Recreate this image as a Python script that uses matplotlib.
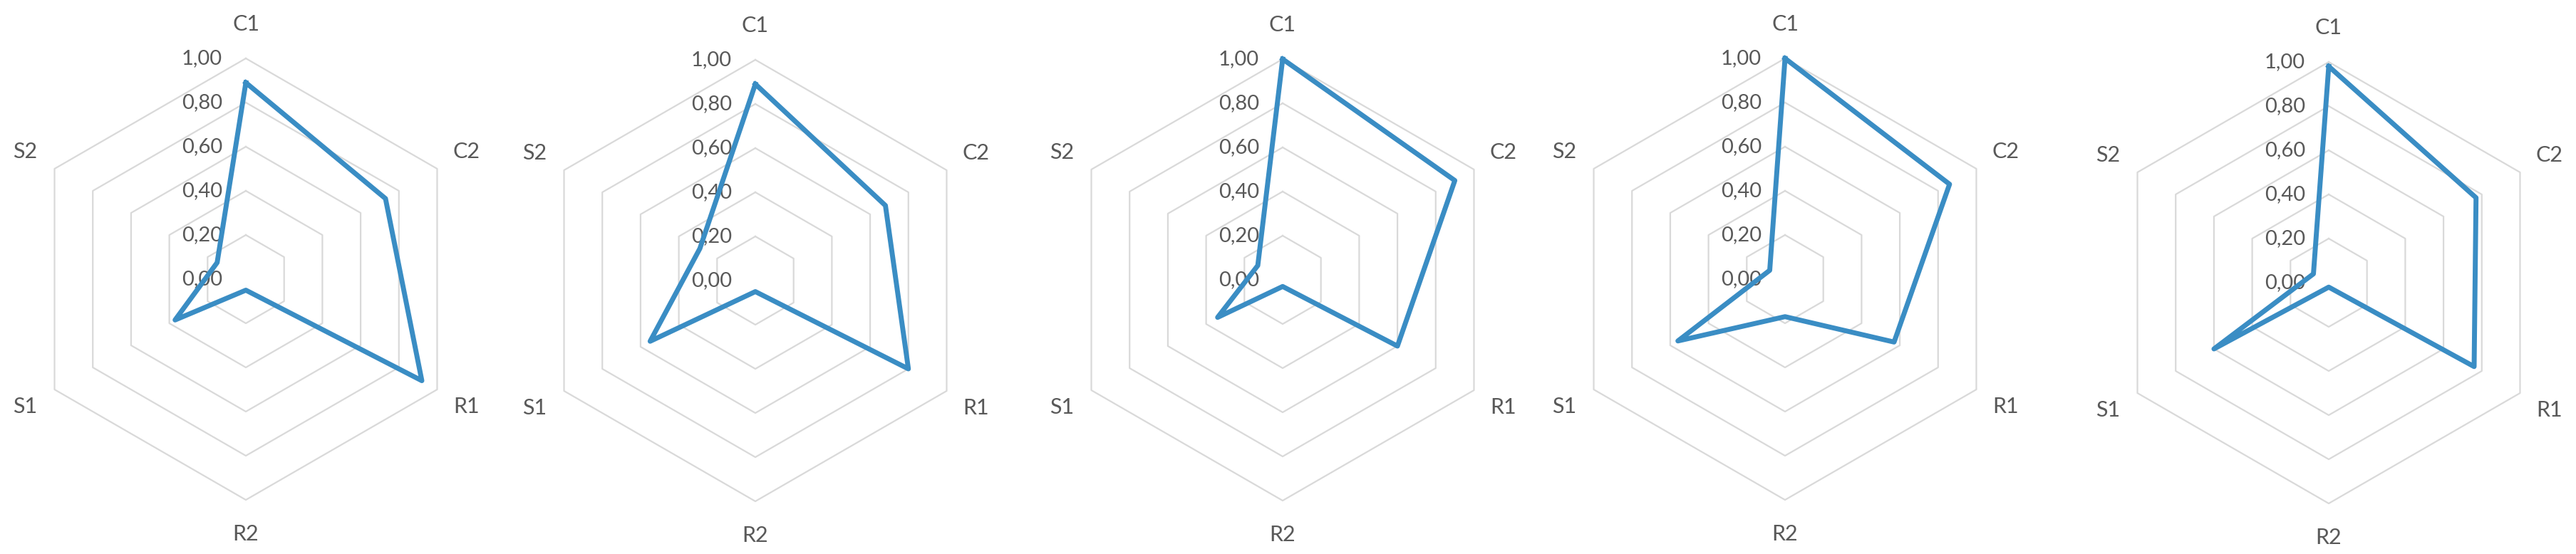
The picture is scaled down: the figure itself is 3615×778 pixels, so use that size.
import numpy as np
import matplotlib.pyplot as plt
from matplotlib import transforms

categories = ['C1', 'C2', 'R1', 'R2', 'S1', 'S2']
levels = [0.0, 0.2, 0.4, 0.6, 0.8, 1.0]
level_labels = ['0,00', '0,20', '0,40', '0,60', '0,80', '1,00']

chart1 = [0.89, 0.73, 0.92, 0.05, 0.37, 0.15]
chart2 = [0.89, 0.68, 0.80, 0.05, 0.55, 0.29]
chart3 = [1.00, 0.90, 0.60, 0.03, 0.34, 0.13]
chart4 = [1.00, 0.86, 0.57, 0.17, 0.56, 0.08]
chart5 = [0.98, 0.77, 0.76, 0.02, 0.60, 0.08]
charts = [chart1, chart2, chart3, chart4, chart5]

# chart centres in pixels (x, y from top) and radius of the 1,00 ring
centres = [(345, 392), (1060, 394), (1800, 393), (2505, 392), (3268, 397)]
R = 310
W, H = 3615, 778

plt.rcParams['font.family'] = ['Lato', 'DejaVu Sans']
text_col = '#595959'
grid_col = '#D9D9D9'
line_col = '#3A8DC4'

fig = plt.figure(figsize=(W / 100, H / 100), dpi=100)
fig.patch.set_facecolor('white')

angles = np.linspace(0, 2 * np.pi, len(categories), endpoint=False)
ang_closed = np.append(angles, angles[0])

for vals, (cx, cy) in zip(charts, centres):
    rect = [(cx - R) / W, (H - cy - R) / H, 2 * R / W, 2 * R / H]
    ax = fig.add_axes(rect, projection='polar')
    ax.set_theta_offset(np.pi / 2)
    ax.set_theta_direction(-1)
    ax.set_ylim(0, 1)
    ax.patch.set_alpha(0)
    ax.spines['polar'].set_visible(False)
    ax.grid(False)
    ax.set_yticks([])

    # hexagonal rings
    for lv in levels[1:]:
        ax.plot(ang_closed, [lv] * len(ang_closed), color=grid_col,
                lw=1.6, clip_on=False, zorder=1)

    ax.set_xticks(angles)
    ax.set_xticklabels(categories, fontsize=22, color=text_col)
    ax.tick_params(axis='x', pad=24)

    off = transforms.offset_copy(ax.transData, fig=fig, x=-33, y=0, units='dots')
    for lv, lab in zip(levels, level_labels):
        ax.text(0, lv, lab, transform=off, ha='right', va='center',
                fontsize=21, color=text_col, zorder=2)

    v = np.append(vals, vals[0])
    ax.plot(ang_closed, v, color=line_col, lw=5, solid_joinstyle='round',
            clip_on=False, zorder=3)

fig.savefig('out.png', dpi=100, facecolor='white')
